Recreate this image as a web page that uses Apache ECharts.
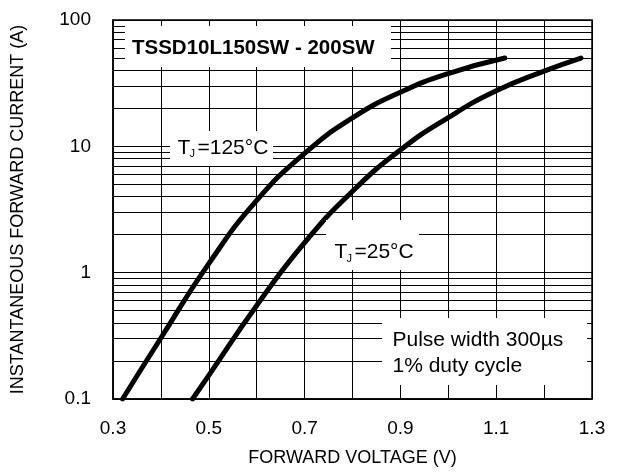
<!DOCTYPE html>
<html>
<head>
<meta charset="utf-8">
<script src="https://cdn.jsdelivr.net/npm/echarts@6/dist/echarts.min.js"></script>
<style>
  html, body { margin: 0; padding: 0; background: #fff; }
</style>
</head>
<body>
<div id="myChart" style="width: 617px; height: 472px;"></div>
<script>
// curve data
const voltage125 = [0.32, 0.4, 0.5, 0.6, 0.7, 0.8, 0.9, 1.0, 1.118]
const current125 = [0.1, 0.304, 1.18, 3.73, 8.8, 16.8, 26.8, 37.7, 50]
const voltage25 = [0.466, 0.5, 0.6, 0.7, 0.8, 0.9, 1.0, 1.1, 1.2, 1.277]
const current25 = [0.1, 0.154, 0.55, 1.73, 4.41, 9.36, 16.9, 27.5, 39.4, 50]

// tick labels
const xTickValues = [0.3, 0.5, 0.7, 0.9, 1.1, 1.3]
const yTickValues = [0.1, 1, 10, 100]
// minor log grid lines (2..9 in each decade)
const yMinorGrid = [0.2, 0.3, 0.4, 0.5, 0.6, 0.7, 0.8, 0.9,
  2, 3, 4, 5, 6, 7, 8, 9,
  20, 30, 40, 50, 60, 70, 80, 90]

const FONT = '"Liberation Sans", Arial, Helvetica, sans-serif'

function curve(name, xs, ys) {
  return {
    name: name,
    type: 'line',
    data: xs.map((x, i) => [x, ys[i]]),
    smooth: 0.5,
    showSymbol: false,
    z: 3,
    lineStyle: { color: '#000', width: 5, cap: 'round' },
    emphasis: { disabled: true }
  }
}

const myChart = echarts.init(document.getElementById('myChart'))

const seriesList = []
seriesList.push({
  name: 'grid',
  type: 'line',
  data: [],
  z: 1,
  silent: true,
  markLine: {
    silent: true,
    symbol: ['none', 'none'],
    label: { show: false },
    lineStyle: { color: '#000', width: 1, type: 'solid' },
    emphasis: { disabled: true },
    animation: false,
    data: yMinorGrid.map(v => ({ yAxis: v }))
  }
})
seriesList.push(curve('TJ=125°C', voltage125, current125))
seriesList.push(curve('TJ=25°C', voltage25, current25))

function box(x, y, w, h) {
  return { type: 'rect', z: 100, shape: { x: x, y: y, width: w, height: h }, style: { fill: '#fff' } }
}
function txt(x, y, text, size, weight) {
  return {
    type: 'text', z: 101, x: x, y: y,
    style: { text: text, fill: '#000', font: (weight || 'normal') + ' ' + size + 'px ' + FONT, verticalAlign: 'middle', align: 'left' }
  }
}

const option = {
  animation: false,
  textStyle: { fontFamily: FONT },
  grid: {
    left: 113,
    right: 25,
    top: 20,
    bottom: 67,
    show: true,
    borderColor: '#000',
    borderWidth: 1.5
  },
  xAxis: {
    type: 'value',
    min: 0.3,
    max: 1.3,
    interval: 0.1,
    name: 'FORWARD VOLTAGE (V)',
    nameLocation: 'middle',
    nameGap: 50,
    nameMoveOverlap: false,
    nameTextStyle: { color: '#000', fontSize: 18, fontFamily: FONT },
    axisLine: { show: true, lineStyle: { color: '#000', width: 1.5 } },
    axisTick: { show: false },
    axisLabel: {
      customValues: xTickValues,
      margin: 20,
      color: '#000',
      fontSize: 19,
      fontFamily: FONT,
      formatter: v => v.toFixed(1)
    },
    splitLine: { show: true, lineStyle: { color: '#000', width: 1 } }
  },
  yAxis: {
    type: 'log',
    logBase: 10,
    min: 0.1,
    max: 100,
    name: 'INSTANTANEOUS FORWARD CURRENT (A)',
    nameLocation: 'middle',
    nameRotate: 90,
    nameGap: 86,
    nameMoveOverlap: false,
    nameTextStyle: { color: '#000', fontSize: 18, fontFamily: FONT },
    axisLine: { show: true, lineStyle: { color: '#000', width: 1.5 } },
    axisTick: { show: false },
    axisLabel: {
      customValues: yTickValues,
      margin: 22,
      color: '#000',
      fontSize: 19,
      fontFamily: FONT,
      formatter: v => String(v)
    },
    splitLine: { show: true, lineStyle: { color: '#000', width: 1 } }
  },
  graphic: [
    box(125, 26, 266, 41),
    txt(132, 48, 'TSSD10L150SW - 200SW', 20.5, 'bold'),
    box(170, 131, 103, 35),
    txt(177.5, 148, 'T', 21),
    txt(189.5, 154, 'J', 11),
    txt(197.5, 148, '=125°C', 21),
    box(326, 220, 93, 50),
    txt(334.5, 252.5, 'T', 21),
    txt(346.5, 258.5, 'J', 11),
    txt(354.5, 252.5, '=25°C', 21),
    box(382, 318, 205, 67),
    txt(392.5, 340, 'Pulse width 300µs', 21),
    txt(392.5, 366, '1% duty cycle', 21)
  ],
  series: seriesList
}
myChart.setOption(option)
</script>
</body>
</html>
